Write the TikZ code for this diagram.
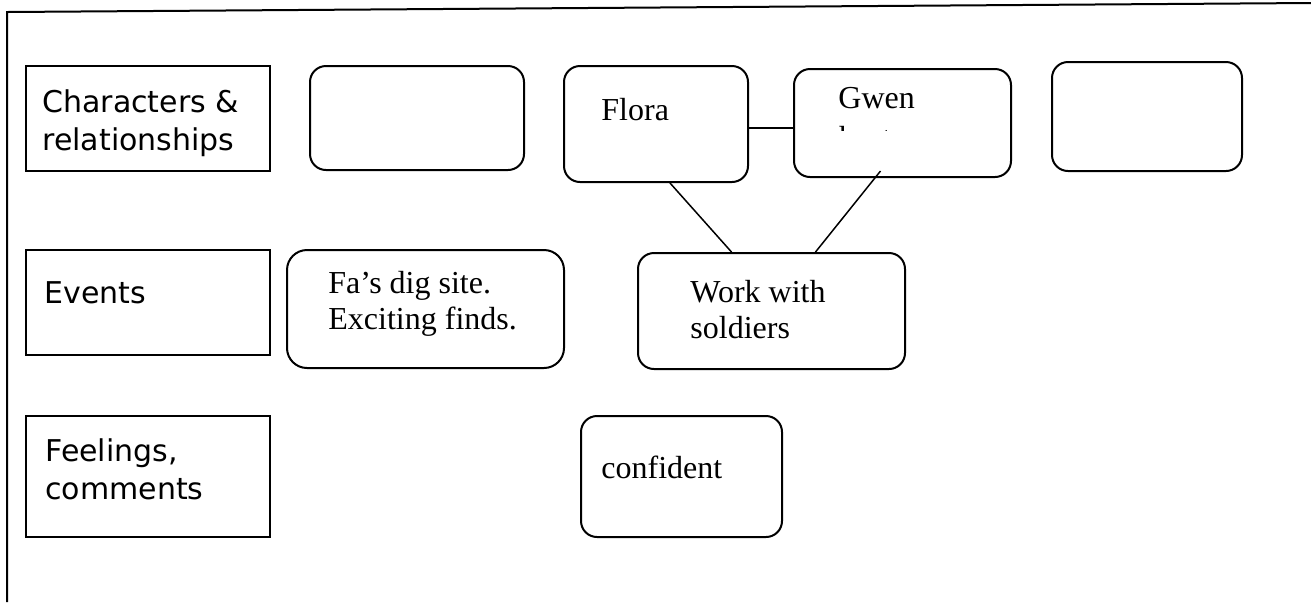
\documentclass[tikz,border=0pt]{standalone}
\usepackage{fontspec}
\setmainfont{Liberation Serif}
\newfontfamily\handfont{DejaVu Sans}

\begin{document}
\begin{tikzpicture}[x=0.5pt, y=-0.5pt,
  labelbox/.style={draw, line width=1pt, inner sep=0pt},
  roundbox/.style={draw, line width=1pt, rounded corners=8pt, inner sep=0pt},
  hand/.style={font=\handfont\fontsize{15}{19}\selectfont, align=left, inner sep=0pt, anchor=base west},
  typed/.style={font=\fontsize{16}{18}\selectfont, align=left, inner sep=0pt, anchor=base west},
  link/.style={line width=0.75pt}]

% Page frame (open at right and bottom)
\useasboundingbox (0,0) rectangle (1311,602);
\draw [line width=1pt] (1311,3) -- (7,12) -- (7,602);

% Row labels (text placed at the baseline of its last line)
\node[labelbox, minimum width=122pt, minimum height=52.5pt] (charBox) at (148,118.5) {};
\node[labelbox, minimum width=122pt, minimum height=52.5pt] (eventBox) at (148,302.5) {};
\node[labelbox, minimum width=122pt, minimum height=60.5pt] (feelBox) at (148,476.5) {};
\node[hand] (charTxt) at (42,150) {Characters \&\\relationships};
\node[hand] (eventTxt) at (44,303) {Events};
\node[hand] (feelTxt) at (45,499) {Feelings,\\comments};

% Characters row
\node[roundbox, minimum width=107pt, minimum height=52pt] (charA) at (417,118) {};
\node[roundbox, minimum width=92pt, minimum height=58pt] (flora) at (656,124) {};
\node[roundbox, minimum width=108.5pt, minimum height=54pt] (gwen) at (902.5,123) {};
\node[roundbox, minimum width=95pt, minimum height=54.5pt] (charB) at (1147,116.5) {};
\node[typed] (floraTxt) at (601,120) {Flora};
\node[typed] (gwenTxt) at (838,108) {Gwen};
\begin{scope}
 \clip (830,122) rectangle (900,130); % second line cut off by the box
 \node[typed] (gwenMore) at (839,148) {best};
\end{scope}

% Events row
\node[roundbox, rounded corners=10pt, minimum width=138.5pt, minimum height=59pt] (digSite) at (425.5,309) {};
\node[roundbox, minimum width=133.5pt, minimum height=58pt] (soldiers) at (771.5,311) {};
\node[typed] (digTxt) at (328,329) {Fa’s dig site.\\Exciting finds.};
\node[typed] (workTxt) at (690,338) {Work with\\soldiers};

% Feelings row
\node[roundbox, minimum width=100.5pt, minimum height=60.5pt] (confident) at (681.5,476.5) {};
\node[typed] (confTxt) at (601,478) {confident};

% Links between boxes
\draw [link] ([yshift=-2pt]flora.east) -- ([yshift=-2pt]flora.east -| gwen.west);
\draw [link] ([xshift=7pt]flora.south) -- ([xshift=-20pt]soldiers.north);
\draw [link] ([xshift=-11pt,yshift=3.5pt]gwen.south) -- ([xshift=22pt]soldiers.north);

\end{tikzpicture}
\end{document}
